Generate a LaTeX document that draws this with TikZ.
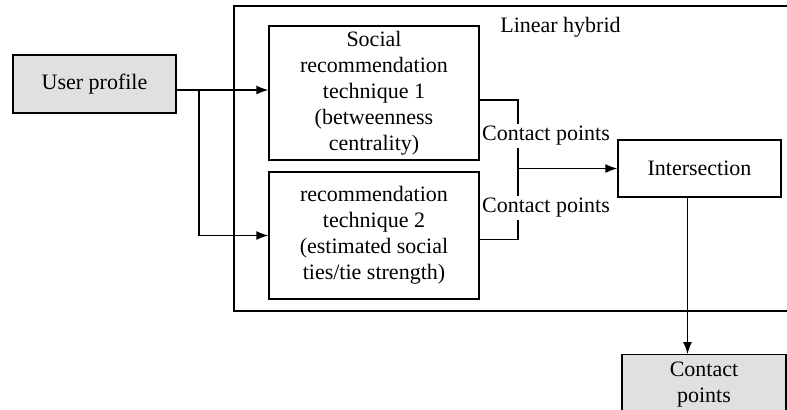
\documentclass[tikz,border=0pt]{standalone}
\usepackage{fontspec}
\setmainfont{Liberation Serif}
\usetikzlibrary{arrows.meta, positioning, calc}

\tikzset{
    box/.style={draw, line width=0.65pt, align=center, inner sep=2pt},
    greybox/.style={box, fill=black!12},
    lbl/.style={fill=white, inner sep=1pt},
}

\begin{document}
\begin{tikzpicture}[x=0.5pt, y=-0.5pt, font=\fontsize{11}{13}\selectfont, >={Latex[length=6pt,width=4.5pt]}, line width=0.65pt]
    \useasboundingbox (0,0) rectangle (787,409);

    % linear hybrid frame
    \draw (234,6) rectangle (800,311);
    \node[anchor=west] (lh) at (493,27) {Linear hybrid};

    \node[greybox, minimum width=81.5pt, minimum height=29pt] (up) at (94.5,84) {User profile};
    \node[box, minimum width=105pt, minimum height=67pt] (t1) at (374,93) {Social\\recommendation\\technique 1\\(betweenness\\centrality)};
    \node[box, minimum width=105pt, minimum height=63.5pt] (t2) at (374,235.5) {recommendation\\technique 2\\(estimated social\\ties/tie strength)};
    \node[box, minimum width=81.5pt, minimum height=28.5pt] (is) at (699.5,168.5) {Intersection};
    \node[greybox, anchor=north, minimum width=82pt, minimum height=30pt] (cp) at (704,354) {Contact\\points};

    % user profile to both techniques
    \coordinate (br) at (199,90);
    \draw[->] ([yshift=-3pt]up.east) -- ([yshift=-3pt]up.east -| t1.west);
    \draw[->] (br) |- (t2.west);

    % merge of contact points
    \coordinate (mg) at (518,168.5);
    \draw ([yshift=-3.5pt]t1.east) -| (mg);
    \draw ([yshift=-2pt]t2.east) -| (mg);
    \draw[->] (mg) -- (is.west);
    \node[lbl] (c1) at (546,136) {Contact points};
    \node[lbl] (c2) at (546,208) {Contact points};

    \draw[->] ([xshift=-6pt]is.south) -- ([xshift=-6pt]is.south |- cp.north);
\end{tikzpicture}
\end{document}
